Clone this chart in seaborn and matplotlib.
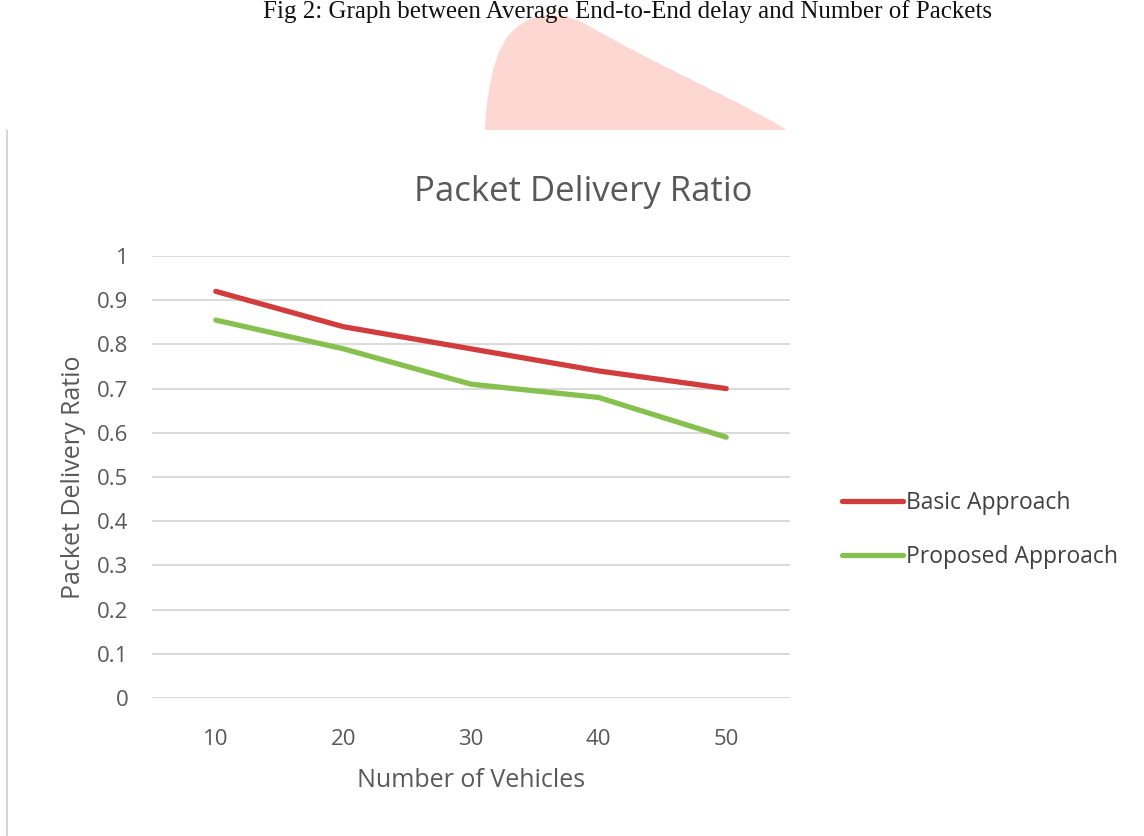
import matplotlib
matplotlib.use("Agg")
import matplotlib.pyplot as plt
import seaborn as sns
import pandas as pd
from matplotlib.patches import Polygon
from matplotlib.lines import Line2D

vehicles = ["10", "20", "30", "40", "50"]
basic = [0.92, 0.84, 0.79, 0.74, 0.70]
proposed = [0.855, 0.79, 0.71, 0.68, 0.59]
series_names = ["Basic Approach", "Proposed Approach"]
y_ticks = [0, 0.1, 0.2, 0.3, 0.4, 0.5, 0.6, 0.7, 0.8, 0.9, 1]
y_tick_labels = ["0", "0.1", "0.2", "0.3", "0.4", "0.5", "0.6", "0.7", "0.8", "0.9", "1"]

df = pd.DataFrame({
    "Number of Vehicles": vehicles * 2,
    "Packet Delivery Ratio": basic + proposed,
    "Series": [series_names[0]] * len(vehicles) + [series_names[1]] * len(vehicles),
})

sns.set_theme(style="white")
plt.rcParams["font.family"] = ["Open Sans", "DejaVu Sans"]

W, H = 1144, 836
TXT = "#595959"
RED, GREEN = "#d13c3c", "#86c14f"

fig = plt.figure(figsize=(W / 100, H / 100), dpi=100)
fig.patch.set_facecolor("white")

# caption
fig.text(627 / W, 1 - 18 / H, "Fig 2: Graph between Average End-to-End delay and Number of Packets",
         ha="center", va="baseline", fontsize=18, family=["Liberation Serif", "DejaVu Serif"],
         color="#111111")

# pink watermark blob (decoration)
pts = [(485, 130), (486, 110), (489, 90), (493, 70), (499, 52), (507, 37), (518, 26),
       (532, 18), (548, 15), (564, 16), (580, 21), (596, 30), (625, 46), (660, 64),
       (700, 84), (740, 104), (770, 120), (787, 130)]
poly = Polygon([(x / W, 1 - y / H) for x, y in pts], closed=True, transform=fig.transFigure,
               facecolor="#fdd7d2", edgecolor="none", zorder=0)
fig.patches.append(poly)

# left frame line
fig.add_artist(Line2D([7 / W, 7 / W], [0, 1 - 130 / H], transform=fig.transFigure,
                      color="#d0d0d0", linewidth=1.2))

left, right, top, bottom = 152, 790, 256, 698
ax = fig.add_axes([left / W, 1 - bottom / H, (right - left) / W, (bottom - top) / H])
ax.set_facecolor("white")

sns.lineplot(data=df, x="Number of Vehicles", y="Packet Delivery Ratio", hue="Series",
             palette=[RED, GREEN], linewidth=3.8, ax=ax, legend=False,
             solid_capstyle="round")

ax.set_xlim(-0.5, len(vehicles) - 0.5)
ax.set_ylim(0, 1)
ax.set_yticks(y_ticks)
ax.set_yticklabels(y_tick_labels)
ax.yaxis.grid(True, color="#d9d9d9", linewidth=1.4)
ax.xaxis.grid(False)
for s in ax.spines.values():
    s.set_visible(False)
ax.tick_params(axis="both", length=0, labelsize=16, colors=TXT)
ax.tick_params(axis="y", pad=17)
ax.tick_params(axis="x", pad=22)
for lab in ax.get_yticklabels():
    lab.set_horizontalalignment("right")

ax.set_xlabel("Number of Vehicles", fontsize=18, color=TXT, labelpad=13)
ax.set_ylabel("Packet Delivery Ratio", fontsize=18, color=TXT, labelpad=8)

fig.text(583 / W, 1 - 192 / H, "Packet Delivery Ratio", ha="center", va="center",
         fontsize=25, color=TXT)

handles = [Line2D([0], [0], color=RED, lw=3.8), Line2D([0], [0], color=GREEN, lw=3.8)]
leg = fig.legend(handles, series_names, loc="center left",
                 bbox_to_anchor=(842 / W, 1 - 530 / H), frameon=False, fontsize=16.5,
                 handlelength=2.65, handletextpad=0.15, labelspacing=1.28,
                 borderpad=0, borderaxespad=0)
for t in leg.get_texts():
    t.set_color("#404040")

fig.savefig("out.png", dpi=100, facecolor="white")
